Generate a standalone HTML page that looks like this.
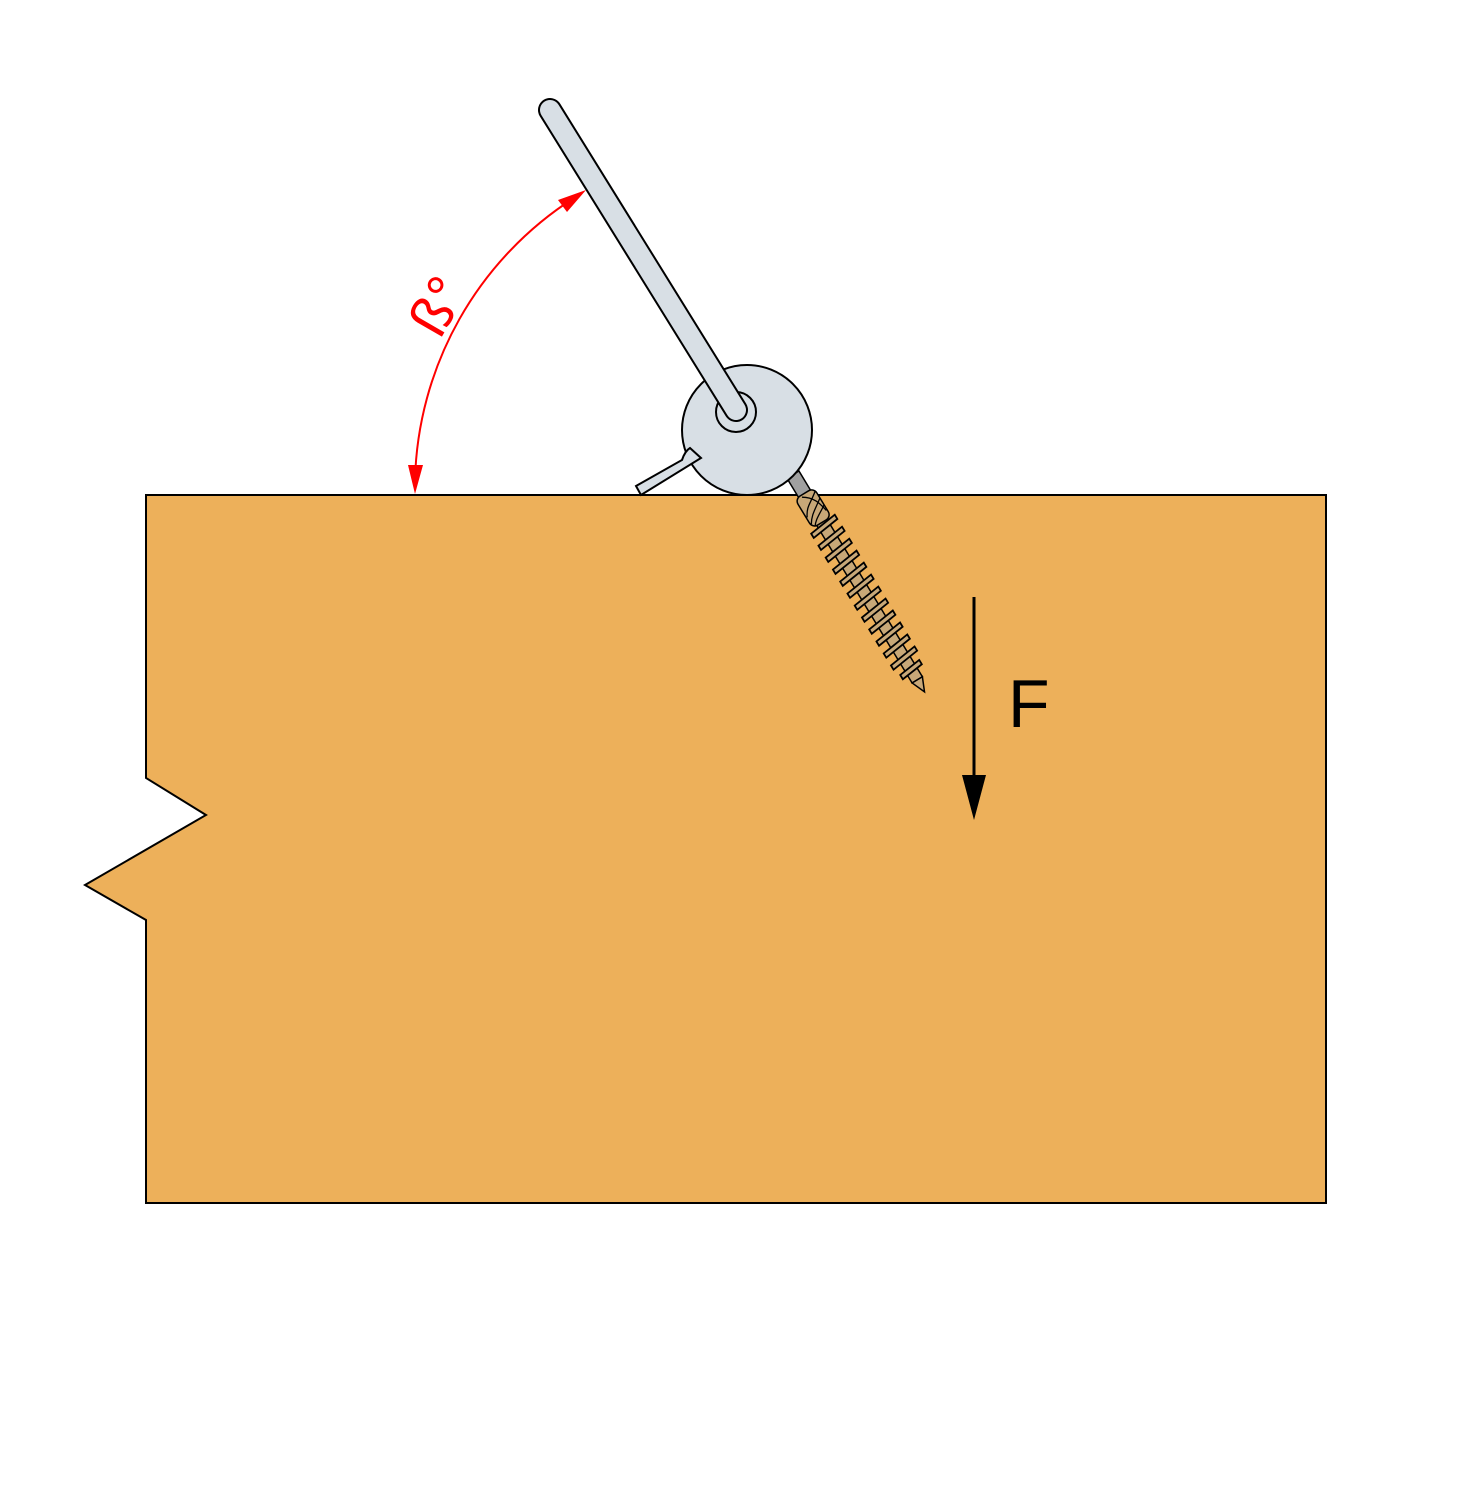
<!DOCTYPE html>
<html><head><meta charset="utf-8"><style>
html,body{margin:0;padding:0;background:#fff}
svg{display:block}
</style></head><body>
<svg width="1469" height="1494" viewBox="0 0 1469 1494" xmlns="http://www.w3.org/2000/svg">
<polygon points="146,495 1326,495 1326,1203 146,1203 146,920 85,885 206,815 146,778" fill="#edb05a" stroke="#000" stroke-width="2"/>
<g transform="translate(795,478) rotate(58.8)">
  <rect x="-4" y="-7" width="24" height="14" fill="#a0a0a0" stroke="#000" stroke-width="1.5"/>
  <rect x="50" y="-6" width="186" height="12" fill="#c8a878" stroke="#000" stroke-width="1.5"/>
  <g fill="#c8a878" stroke="#000" stroke-width="1.8">
    <path d="M52,-15 l5,0 l4,30 l-5,0 z"/>
    <path d="M66,-15 l5,0 l4,30 l-5,0 z"/>
    <path d="M80,-15 l5,0 l4,30 l-5,0 z"/>
    <path d="M94,-15 l5,0 l4,30 l-5,0 z"/>
    <path d="M108,-15 l5,0 l4,30 l-5,0 z"/>
    <path d="M122,-15 l5,0 l4,30 l-5,0 z"/>
    <path d="M136,-15 l5,0 l4,30 l-5,0 z"/>
    <path d="M150,-15 l5,0 l4,30 l-5,0 z"/>
    <path d="M164,-15 l5,0 l4,30 l-5,0 z"/>
    <path d="M178,-15 l5,0 l4,30 l-5,0 z"/>
    <path d="M192,-15 l5,0 l4,30 l-5,0 z"/>
    <path d="M206,-15 l5,0 l4,30 l-5,0 z"/>
    <path d="M220,-12 l5,0 l3,24 l-5,0 z"/>
  </g>
  <path d="M236,-6 L250,0 L236,6 z" fill="#c8a878" stroke="#000" stroke-width="1.5"/>
  <rect x="18" y="-11" width="34" height="22" rx="6" fill="#c8a878" stroke="#000" stroke-width="1.5"/>
  <path d="M22,-10 C30,0 30,5 40,10 M30,-11 C38,0 40,5 48,10 M38,-11 C44,-2 46,4 52,8 M20,4 C26,-6 34,-8 44,-10" fill="none" stroke="#000" stroke-width="1.3"/>
</g>
<circle cx="747" cy="430" r="65" fill="#d8dfe5" stroke="#000" stroke-width="2"/>
<path d="M636,486 L682,460 Q685,451 690,448 L701,458 L641,495 Z" fill="#d8dfe5" stroke="#000" stroke-width="2"/>
<circle cx="736" cy="412" r="20" fill="#d8dfe5" stroke="#000" stroke-width="2"/>
<line x1="550" y1="110" x2="736" y2="410" stroke="#000" stroke-width="24" stroke-linecap="round"/>
<line x1="550" y1="110" x2="736" y2="410" stroke="#d8dfe5" stroke-width="20" stroke-linecap="round"/>
<path d="M415,480 A345,345 0 0 1 574,198" fill="none" stroke="#f00" stroke-width="2"/>
<polygon points="415,494 408,465 423,465" fill="#f00"/>
<polygon points="586,190 567,212 558,200" fill="#f00"/>
<text x="0" y="0" transform="translate(440,340) rotate(-60)" font-family="Liberation Sans, sans-serif" font-size="56" fill="#f00">ß°</text>
<line x1="974" y1="597" x2="974" y2="780" stroke="#000" stroke-width="3"/>
<polygon points="962,775 986,775 974,820" fill="#000"/>
<text x="1008" y="727" font-family="Liberation Sans, sans-serif" font-size="68" fill="#000">F</text>
</svg>
</body></html>
